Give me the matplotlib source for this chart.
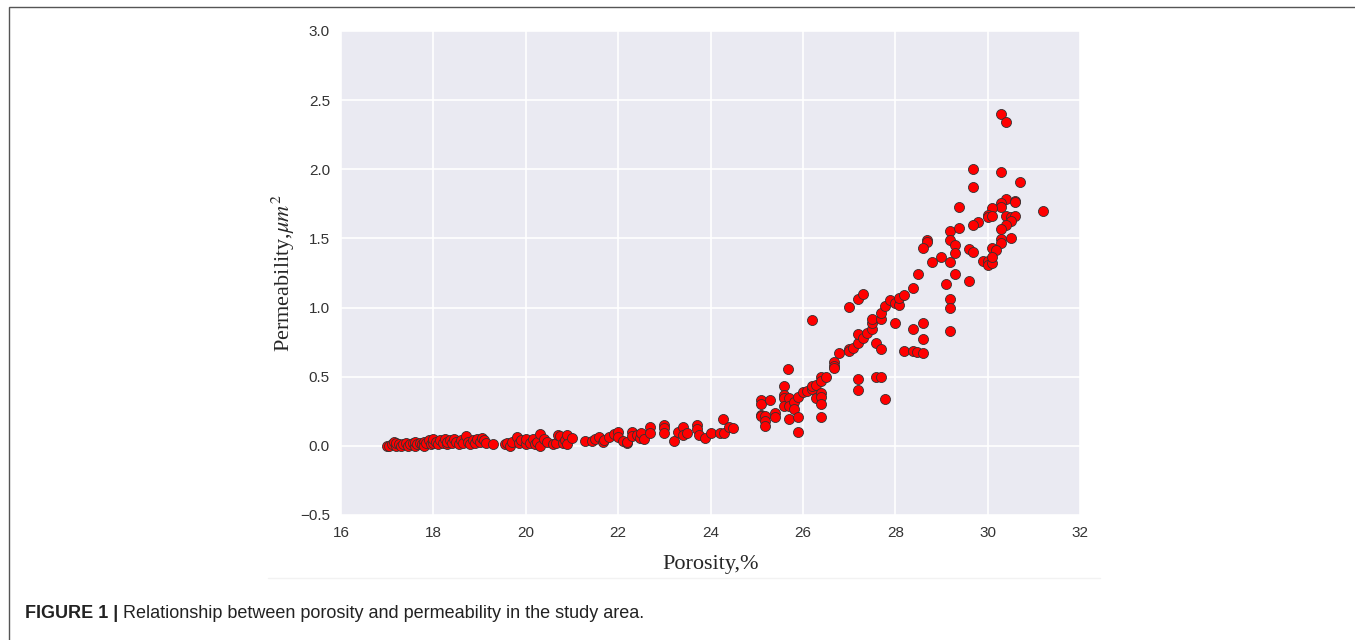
import numpy as np
import matplotlib.pyplot as plt
import seaborn as sns
from matplotlib.patches import Rectangle
from matplotlib.lines import Line2D

# porosity (%) and permeability (um^2)
por_low = [17.0, 17.05, 17.1, 17.15, 17.2, 17.2, 17.25, 17.3, 17.35, 17.4, 17.45, 17.5, 17.55,
           17.6, 17.6, 17.65, 17.7, 17.75, 17.8, 17.8, 17.85, 17.9, 17.95, 18.0, 18.0, 18.05,
           18.1, 18.15, 18.2, 18.25, 18.3, 18.3, 18.35, 18.4, 18.45, 18.5, 18.55, 18.6, 18.65,
           18.7, 18.75, 18.8, 18.85, 18.9, 18.95, 19.0, 19.05, 19.1, 19.15, 19.3]
perm_low = [0.0, 0.0, 0.01, 0.03, 0.0, 0.02, 0.01, 0.0, 0.01, 0.02, 0.0, 0.01, 0.02,
            0.0, 0.03, 0.01, 0.02, 0.01, 0.03, 0.0, 0.02, 0.04, 0.01, 0.02, 0.05, 0.03,
            0.01, 0.04, 0.02, 0.05, 0.01, 0.03, 0.04, 0.02, 0.05, 0.03, 0.01, 0.04, 0.02,
            0.07, 0.03, 0.01, 0.04, 0.02, 0.05, 0.03, 0.06, 0.04, 0.02, 0.01]

por_mid = [19.55, 19.6, 19.65, 19.7, 19.8, 19.85, 19.9, 20.0, 20.0, 20.1, 20.15, 20.2, 20.25,
           20.3, 20.3, 20.4, 20.45, 20.6, 20.65, 20.7, 20.75, 20.8, 20.85, 20.9, 20.9, 21.0]
perm_mid = [0.01, 0.02, 0.0, 0.03, 0.065, 0.02, 0.04, 0.01, 0.05, 0.02, 0.05, 0.01, 0.03,
            0.085, 0.0, 0.05, 0.03, 0.01, 0.02, 0.08, 0.07, 0.02, 0.04, 0.08, 0.01, 0.06]

por_up = [21.28, 21.43, 21.5, 21.59, 21.67, 21.7, 21.8, 21.9, 22.0, 22.0, 22.1, 22.19, 22.2,
          22.3, 22.3, 22.4, 22.47, 22.5, 22.55, 22.7, 22.7, 23.0, 23.0, 23.0, 23.2, 23.3,
          23.4, 23.4, 23.5, 23.7, 23.7, 23.75, 23.88, 24.0, 24.2, 24.27, 24.3, 24.4, 24.48]
perm_up = [0.036, 0.036, 0.05, 0.065, 0.03, 0.04, 0.065, 0.087, 0.1, 0.065, 0.036, 0.02, 0.03,
           0.1, 0.07, 0.08, 0.06, 0.09, 0.05, 0.137, 0.094, 0.15, 0.13, 0.094, 0.036, 0.1,
           0.137, 0.08, 0.094, 0.15, 0.12, 0.08, 0.058, 0.094, 0.094, 0.195, 0.094, 0.137, 0.13]

por_high = [25.09, 25.09, 25.09, 25.09, 25.19, 25.19, 25.19, 25.29, 25.4, 25.4, 25.6, 25.6,
            25.6, 25.6, 25.68, 25.7, 25.7, 25.7, 25.8, 25.8, 25.89, 25.89, 25.89, 26.0, 26.09,
            26.2, 26.2, 26.2, 26.29, 26.29, 26.4, 26.4, 26.4, 26.4, 26.4, 26.4, 26.49, 26.68,
            26.68, 26.68, 26.79, 26.99, 26.99, 26.99, 27.09, 27.19, 27.19, 27.19, 27.19, 27.19,
            27.3, 27.3, 27.39, 27.49, 27.49, 27.49, 27.58, 27.58, 27.69, 27.69, 27.69, 27.69,
            27.78, 27.78, 27.88, 27.99, 27.99, 28.09, 28.09, 28.2, 28.2, 28.39, 28.39, 28.39,
            28.48, 28.59, 28.59, 28.59,
            30.3, 30.4, 29.69, 30.3, 30.7, 29.69, 29.39, 30.4, 30.6, 30.6, 30.3, 30.3, 30.09,
            30.0, 30.0, 30.09, 30.4, 30.5, 30.6, 29.79, 29.69, 30.5, 30.4, 29.19, 29.39, 30.3,
            28.69, 28.69, 29.19, 30.5, 30.3, 30.3, 28.59, 29.29, 29.29, 30.09, 30.19, 29.59,
            29.69, 28.99, 28.79, 29.19, 29.89, 30.0, 30.0, 30.1, 30.1, 28.5, 29.29, 29.1, 29.59,
            29.19, 29.19, 29.19, 31.19]
perm_high = [0.33, 0.305, 0.225, 0.213, 0.213, 0.177, 0.14, 0.33, 0.237, 0.208, 0.436, 0.37,
             0.346, 0.29, 0.557, 0.346, 0.29, 0.194, 0.315, 0.266, 0.353, 0.208, 0.097, 0.387, 0.40,
             0.91, 0.41, 0.436, 0.443, 0.346, 0.50, 0.467, 0.382, 0.353, 0.305, 0.208, 0.50, 0.61,
             0.58, 0.564, 0.673, 1.007, 0.697, 0.685, 0.709, 0.746, 0.806, 1.06, 0.487, 0.402,
             1.097, 0.78, 0.818, 0.847, 0.89, 0.915, 0.746, 0.50, 0.499, 0.697, 0.915, 0.963,
             1.01, 0.339, 1.055, 0.886, 1.036, 1.017, 1.07, 1.09, 0.685, 1.145, 0.847, 0.685,
             0.678, 0.673, 0.89, 0.775,
             2.40, 2.34, 2.0, 1.977, 1.905, 1.869, 1.729, 1.784, 1.772, 1.76, 1.753, 1.724, 1.72,
             1.671, 1.652, 1.664, 1.664, 1.652, 1.664, 1.616, 1.596, 1.623, 1.596, 1.555, 1.575, 1.567,
             1.488, 1.471, 1.49, 1.5, 1.495, 1.466, 1.428, 1.452, 1.394, 1.43, 1.418, 1.423,
             1.399, 1.367, 1.331, 1.331, 1.334, 1.334, 1.31, 1.32, 1.363, 1.242, 1.242, 1.17, 1.189,
             1.061, 0.996, 0.833, 1.695]

x_ticks = [16, 18, 20, 22, 24, 26, 28, 30, 32]
y_ticks = [-0.5, 0.0, 0.5, 1.0, 1.5, 2.0, 2.5, 3.0]

caption_bold = 'FIGURE 1 |'
caption_rest = ' Relationship between porosity and permeability in the study area.'

sns.set_style('darkgrid')
plt.rcParams['font.family'] = ['Liberation Sans', 'DejaVu Sans']
plt.rcParams['mathtext.fontset'] = 'stix'

por = np.concatenate((por_low, por_mid, por_up, por_high))
perm = np.concatenate((perm_low, perm_mid, perm_up, perm_high))

fig = plt.figure(figsize=(13.55, 6.4), dpi=100)
ax = fig.add_axes([341/1355, 125/640, 739/1355, 484/640])
ax.set_facecolor('#EAEAF2')
ax.scatter(por, perm, s=52, c='red', edgecolors='#333333', linewidths=0.6, zorder=3)

ax.set_xlim(16, 32)
ax.set_ylim(-0.5, 3.0)
ax.set_xticks(x_ticks)
ax.set_yticks(y_ticks)
ax.set_yticklabels(['%.1f' % v if v >= 0 else '\u22120.5' for v in y_ticks])
ax.tick_params(length=0, labelsize=11, labelcolor='#333333', pad=8)
ax.grid(True, color='white', linewidth=1.2)
for sp in ax.spines.values():
    sp.set_visible(False)

ax.set_xlabel('Porosity,%', fontsize=16, family='Liberation Serif', labelpad=11)
ax.set_ylabel('Permeability,$\\mu m^2$', fontsize=16, family='Liberation Serif')
ax.yaxis.set_label_coords(-0.06, 0.5)

# frame around the whole figure and faint edge of the embedded image
fig.patches.append(Rectangle((9/1355, -0.1), 1.2, 633/640 + 0.1, transform=fig.transFigure,
                             fill=False, edgecolor='#555555', linewidth=1.0))
fig.lines.append(Line2D([268/1355, 1100/1355], [62/640, 62/640], transform=fig.transFigure,
                        color='#f2f2f2', linewidth=1.0))

t = fig.text(25/1355, 26/640, caption_bold, fontsize=13, fontweight='bold',
             color='#222222', va='center')
fig.canvas.draw()
bb = t.get_window_extent()
fig.text(bb.x1/1355, 26/640, caption_rest, fontsize=13, color='#222222', va='center')

fig.savefig('out.png', dpi=100)
